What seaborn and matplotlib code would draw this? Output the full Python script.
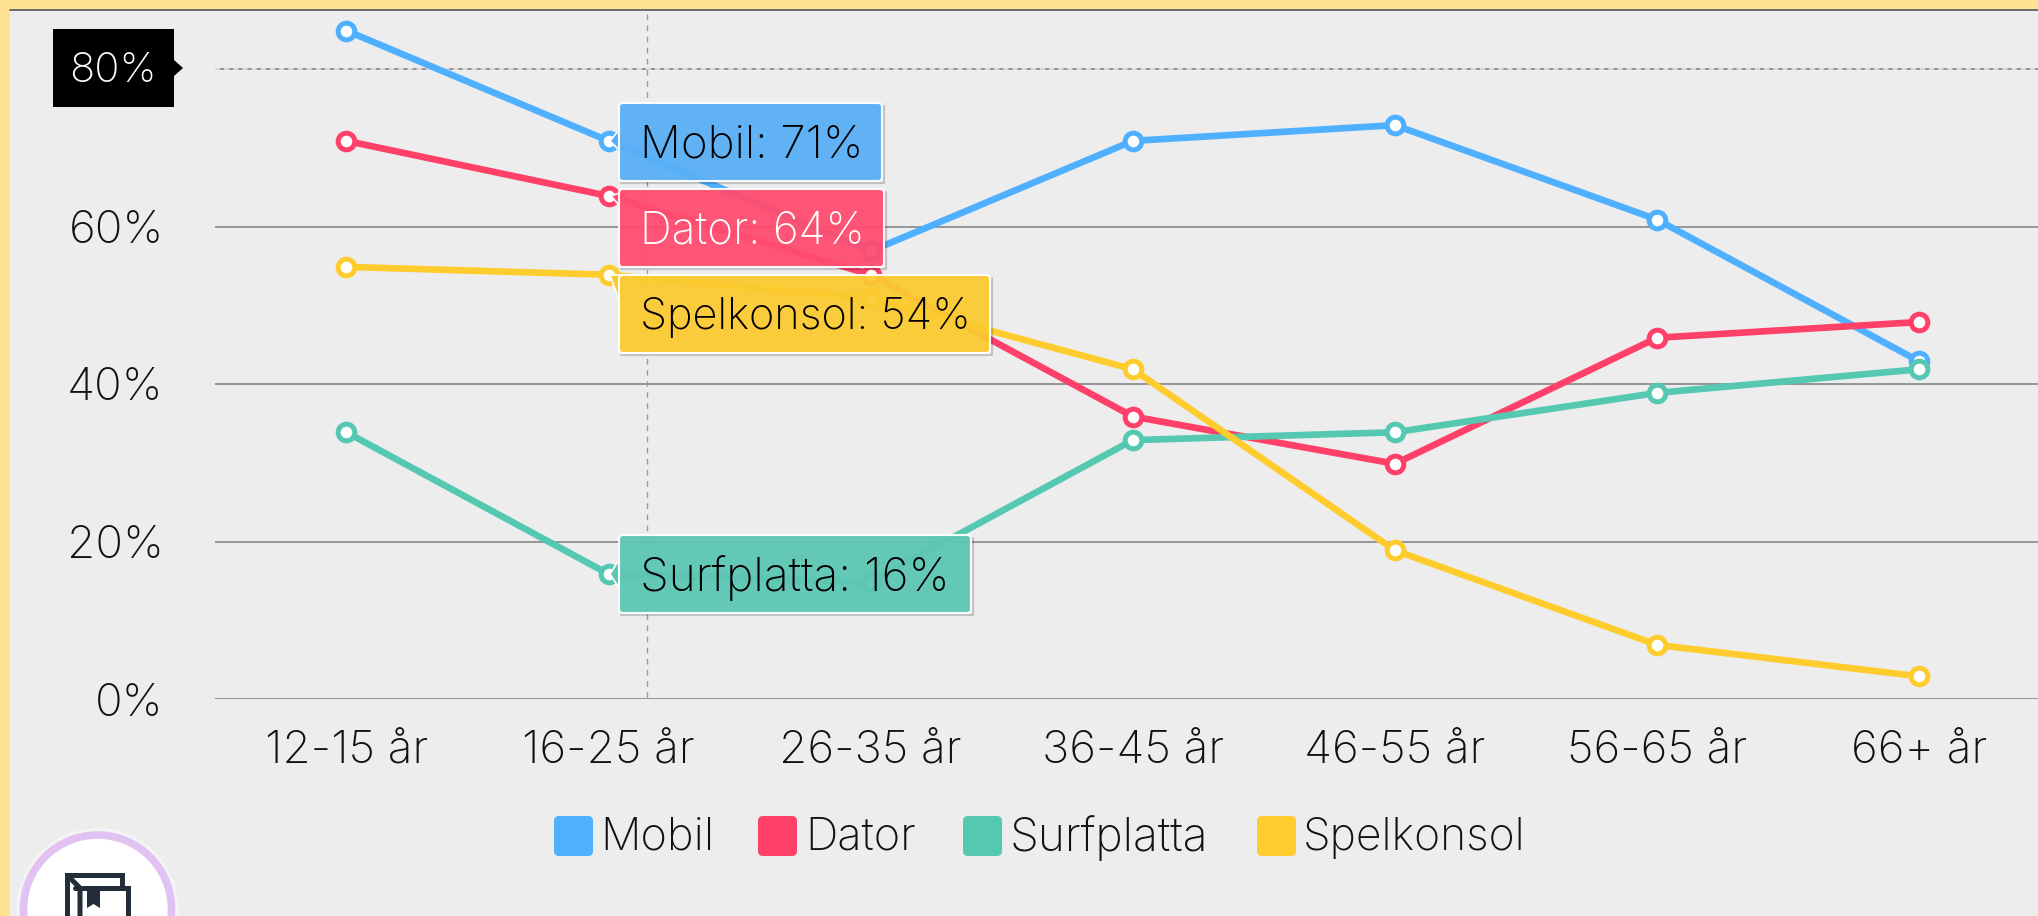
"""
Device use per age group, drawn as a seaborn line chart with the
hover tooltips and the crosshair label of the original screenshot.
"""

import matplotlib
matplotlib.use("Agg")
import matplotlib.pyplot as plt
from matplotlib.patches import Circle, FancyBboxPatch, Polygon, Rectangle
from matplotlib.transforms import Affine2D
import pandas as pd
import seaborn as sns

age_groups = ["12-15 år", "16-25 år", "26-35 år", "36-45 år", "46-55 år", "56-65 år", "66+ år"]
mobil = [85, 71, 57, 71, 73, 61, 43]
dator = [71, 64, 54, 36, 30, 46, 48]
surfplatta = [34, 16, 15, 33, 34, 39, 42]
spelkonsol = [55, 54, 51, 42, 19, 7, 3]
series_names = ["Mobil", "Dator", "Surfplatta", "Spelkonsol"]
y_ticks = [0, 20, 40, 60, 80]
hover_index = 1

colors = ["#4FB0FF", "#FF4069", "#55C8B2", "#FFCC2E"]
box_colors = ["#58AFF6", "#FF4C6F", "#5DC6B3", "#FBCA30"]
text_colors = ["black", "white", "black", "black"]

W, H = 2038, 916
PANEL = "#EDEDED"
STRIP = "#FFE292"
FONT = "Inter"
FS_TICK = 33
FS_TIP = [32.8, 31.8, 33.2, 31.2]
FS_LEG = [32.5, 32.5, 33.3, 32]

sns.set_theme(style="white")
plt.rcParams["font.family"] = [FONT, "DejaVu Sans"]
plt.rcParams["font.weight"] = "light"

df = pd.DataFrame({"age": age_groups, "Mobil": mobil, "Dator": dator,
                   "Surfplatta": surfplatta, "Spelkonsol": spelkonsol})
long_df = df.melt(id_vars="age", value_vars=series_names, var_name="device", value_name="share")

fig = plt.figure(figsize=(W / 100, H / 100), dpi=100, facecolor=PANEL)

# plot area runs past the right edge of the screenshot
ax = fig.add_axes([215.3 / W, 1 - 699 / H, 1835 / W, 690 / H])
ax.set_facecolor(PANEL)
sns.lineplot(data=long_df, x="age", y="share", hue="device", hue_order=series_names,
             palette=colors, marker="o", markersize=12, markerfacecolor="white",
             linewidth=4.8, legend=False, ax=ax, zorder=3)
for line in ax.lines:
    line.set_markeredgecolor(line.get_color())
    line.set_markeredgewidth(3.6)
    line.set_solid_capstyle("round")
    # lines sit about a pixel under the grid in the screenshot
    line.set_transform(line.get_transform() + Affine2D().translate(0, -1))

ax.set_xlim(-0.5, 6.5)
ax.set_ylim(0, 690 / 7.875)
ax.set_yticks(y_ticks)
# the 80% tick is shown by the black crosshair label instead
ax.set_yticklabels([f"{v}%" if v != 80 else "" for v in y_ticks])
ax.set_xlabel("")
ax.set_ylabel("")
ax.tick_params(axis="y", length=0, pad=37, labelsize=FS_TICK, labelcolor="#111111")
ax.tick_params(axis="x", length=0, pad=22, labelsize=FS_TICK, labelcolor="#111111")
ax.grid(axis="y", color="#8E8E8E", linewidth=1.3, zorder=1)
ax.grid(axis="x", visible=False)
ax.set_axisbelow(True)
for side in ax.spines:
    ax.spines[side].set_visible(False)

# crosshair
ax.axhline(80, color="#E8E8E8", linewidth=1.2, linestyle=(0, (3, 2.5)), zorder=2)

# overlay in screenshot pixels for the non-data furniture
ov = fig.add_axes([0, 0, 1, 1], facecolor="none")
ov.set_xlim(0, W)
ov.set_ylim(H, 0)
ov.axis("off")

ov.add_patch(Rectangle((0, 0), W, 9, color=STRIP, lw=0, zorder=1))
ov.add_patch(Rectangle((0, 0), 10, H, color=STRIP, lw=0, zorder=1))
ov.plot([10, W], [9.5, 9.5], color="#555555", lw=1.2, zorder=1)
ov.plot([647, 647], [14, 699], color="#999999", lw=1.0, linestyle=(0, (4, 4)), zorder=2)

# y crosshair label
ov.add_patch(Rectangle((53, 29), 121, 78, color="black", lw=0, zorder=6))
ov.add_patch(Polygon([(174, 60), (183, 68), (174, 76)], color="black", lw=0, zorder=6))
ov.text(113, 71, "80%", color="white", fontsize=30, ha="center", va="center", zorder=7)

# tooltips
box_rects = [(619, 103, 882, 181), (619, 189, 884, 267), (619, 275, 990, 353), (619, 535, 971, 613)]
box_order = [0, 1, 3, 2]
pointers = [[(619, 130), (610, 141), (619, 150)],
            [(619, 205), (611, 196), (630, 189)],
            [(619, 300), (610, 275), (632, 275)],
            [(619, 560), (610, 574), (619, 588)]]
series_values = [mobil, dator, surfplatta, spelkonsol]
for pos, i in enumerate(box_order):
    x0, y0, x1, y1 = box_rects[pos]
    # soft edge on the right and bottom only, so it does not darken the box
    ov.plot([x1 + 2, x1 + 2, x0 + 2], [y0 + 3, y1 + 2, y1 + 2], color="black", alpha=0.18, lw=1.6,
            zorder=4 + pos * 0.1)
    ov.add_patch(Polygon(pointers[pos], fc=box_colors[i], ec="white", lw=1.2, zorder=4.5 + pos * 0.1))
    ov.add_patch(FancyBboxPatch((x0, y0), x1 - x0, y1 - y0,
                                boxstyle="round,pad=0,rounding_size=4",
                                fc=box_colors[i], ec="white", lw=1.5, alpha=0.95, zorder=4.6 + pos * 0.1))
    ov.text(640, (y0 + y1) / 2 + 4, f"{series_names[i]}: {series_values[i][hover_index]}%",
            color=text_colors[i], fontsize=FS_TIP[i], ha="left", va="center", zorder=5 + pos * 0.1)

# legend
swatch_x = [554, 758, 963, 1257]
label_x = [600, 805, 1010, 1303]
for i, name in enumerate(series_names):
    ov.add_patch(FancyBboxPatch((swatch_x[i], 816), 39, 40,
                                boxstyle="round,pad=0,rounding_size=5",
                                fc=colors[i], ec="none", zorder=3))
    ov.text(label_x[i], 838, name, color="#111111", fontsize=FS_LEG[i], ha="left", va="center", zorder=3)

# round badge cut off at the bottom
ov.add_patch(Circle((97.5, 909), 81, fc="#F4F4F4", ec="none", zorder=3))
ov.add_patch(Circle((97.5, 909), 74, fc="white", ec="#E2C2F2", lw=5.5, zorder=3))
icon = "#222D39"
ov.plot([67.5, 67.5, 122, 122], [920, 875, 875, 888], color=icon, lw=3.6, solid_joinstyle="miter", zorder=4)
ov.plot([75, 128, 128], [888, 888, 920], color=icon, lw=3.6, solid_joinstyle="miter", zorder=4)
ov.plot([69, 80, 80], [877, 888, 920], color=icon, lw=3.6, solid_joinstyle="miter", zorder=4)
ov.add_patch(Polygon([(87, 888), (100, 888), (100, 908), (93.5, 904), (87, 908)], fc=icon, ec="none", zorder=4))

fig.savefig("out.png", dpi=100, facecolor=fig.get_facecolor())
